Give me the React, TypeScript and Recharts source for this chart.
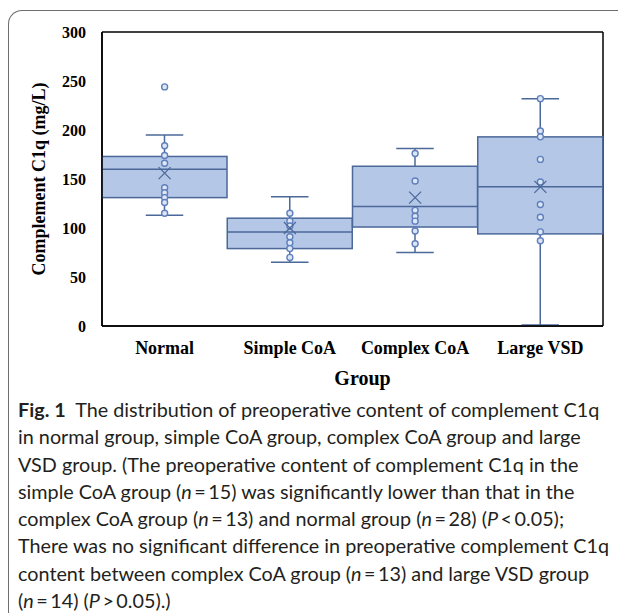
import React from "react";
import {
  ComposedChart,
  Bar,
  Scatter,
  XAxis,
  YAxis,
  CartesianGrid,
} from "recharts";

const groups = ["Normal", "Simple CoA", "Complex CoA", "Large VSD"];
const minVals = [113, 65, 75, 1];
const q1Vals = [131, 79, 101, 94];
const medianVals = [160, 96, 122, 142];
const q3Vals = [173, 110, 163, 193];
const maxVals = [195, 132, 181, 232];
const meanVals = [156, 100, 131, 142];
const pointVals = [
  [244, 184, 174, 166, 141, 136, 131, 126, 115],
  [115, 107, 102, 91, 85, 79, 70],
  [176, 148, 118, 112, 107, 97, 84],
  [232, 199, 193, 170, 147, 124, 111, 96, 87],
];
const yTicks = [0, 50, 100, 150, 200, 250, 300];

const boxData = groups.map((g, i) => ({
  group: g,
  range: [minVals[i], maxVals[i]],
  q1: q1Vals[i],
  median: medianVals[i],
  q3: q3Vals[i],
}));
// numeric position on the hidden top axis = category index + half a band
const dotData = pointVals.flatMap((vals, i) => vals.map((v) => ({ pos: i + 0.5, value: v })));
const meanData = meanVals.map((v, i) => ({ pos: i + 0.5, value: v }));

const BOX_FILL = "#b4c7e7";
const BOX_STROKE = "#4b6899";
const serif = "'Liberation Serif', 'Times New Roman', serif";

// eslint-disable-next-line @typescript-eslint/no-explicit-any
function BoxShape(props: any) {
  const { x, y, width, height, payload } = props;
  const [lo, hi] = payload.range;
  const top = Math.min(y, y + height);
  const h = Math.abs(height);
  const yOf = (v: number) => top + (h * (hi - v)) / (hi - lo);
  const cx = x + width / 2;
  const cap = width * 0.15;
  return (
    <g stroke={BOX_STROKE} strokeWidth={1.5}>
      <line x1={cx} x2={cx} y1={yOf(hi)} y2={yOf(payload.q3)} />
      <line x1={cx - cap} x2={cx + cap} y1={yOf(hi)} y2={yOf(hi)} />
      <line x1={cx} x2={cx} y1={yOf(payload.q1)} y2={yOf(lo)} />
      <line x1={cx - cap} x2={cx + cap} y1={yOf(lo)} y2={yOf(lo)} />
      <rect
        x={x}
        y={yOf(payload.q3)}
        width={width}
        height={yOf(payload.q1) - yOf(payload.q3)}
        fill={BOX_FILL}
      />
      <line x1={x} x2={x + width} y1={yOf(payload.median)} y2={yOf(payload.median)} />
    </g>
  );
}

// eslint-disable-next-line @typescript-eslint/no-explicit-any
function DotShape(props: any) {
  const { cx, cy } = props;
  return <circle cx={cx} cy={cy} r={3} fill="#dde6f5" stroke="#5f7fbd" strokeWidth={1.4} />;
}

// eslint-disable-next-line @typescript-eslint/no-explicit-any
function MeanShape(props: any) {
  const { cx, cy } = props;
  const s = 6;
  return (
    <g stroke={BOX_STROKE} strokeWidth={1.3}>
      <line x1={cx - s} y1={cy - s} x2={cx + s} y2={cy + s} />
      <line x1={cx - s} y1={cy + s} x2={cx + s} y2={cy - s} />
    </g>
  );
}

// eslint-disable-next-line @typescript-eslint/no-explicit-any
function YLabel({ viewBox }: any) {
  const x = viewBox.x - 3;
  const y = viewBox.y + viewBox.height / 2;
  return (
    <text
      x={x}
      y={y}
      transform={`rotate(-90 ${x} ${y})`}
      textAnchor="middle"
      dominantBaseline="central"
      fontFamily={serif}
      fontWeight="bold"
      fontSize={18}
      fill="#000"
    >
      Complement C1q (mg/L)
    </text>
  );
}

// eslint-disable-next-line @typescript-eslint/no-explicit-any
function XLabel({ viewBox }: any) {
  return (
    <text
      x={viewBox.x + viewBox.width / 2 + 10}
      y={viewBox.y + 59}
      textAnchor="middle"
      fontFamily={serif}
      fontWeight="bold"
      fontSize={20}
      fill="#000"
    >
      Group
    </text>
  );
}

// frame lines on the four sides of the plot area
// eslint-disable-next-line @typescript-eslint/no-explicit-any
const frameRows = ({ offset }: any) => [offset.top, offset.top + offset.height];
// eslint-disable-next-line @typescript-eslint/no-explicit-any
const frameCols = ({ offset }: any) => [offset.left, offset.left + offset.width];

const captionLines = [
  <>
    <b>Fig. 1</b>&nbsp; The distribution of preoperative content of complement C1q
  </>,
  <>in normal group, simple CoA group, complex CoA group and large</>,
  <>VSD group. (The preoperative content of complement C1q in the</>,
  <>
    simple CoA group (<i>n</i>&#8201;=&#8201;15) was significantly lower than that in the
  </>,
  <>
    complex CoA group (<i>n</i>&#8201;=&#8201;13) and normal group (<i>n</i>&#8201;=&#8201;28) (<i>P</i>&#8201;&lt;&#8201;0.05);
  </>,
  <>There was no significant difference in preoperative complement C1q</>,
  <>
    content between complex CoA group (<i>n</i>&#8201;=&#8201;13) and large VSD group
  </>,
  <>
    (<i>n</i>&#8201;=&#8201;14) (<i>P</i>&#8201;&gt;&#8201;0.05).)
  </>,
];

export default function App() {
  return (
    <div style={{ position: "relative", width: 618, height: 613, overflow: "hidden", background: "#fff" }}>
      <style>{`body{margin:0;overflow:hidden}`}</style>
      <div
        style={{
          position: "absolute",
          left: 8,
          top: 10,
          width: 640,
          height: 640,
          borderLeft: "1.5px solid #6e6e6e",
          borderTop: "1.5px solid #6e6e6e",
          borderTopLeftRadius: 14,
        }}
      />
      <div style={{ position: "absolute", left: 0, top: 0 }}>
        <ComposedChart
          width={618}
          height={400}
          data={boxData}
          margin={{ top: 32, right: 15, bottom: 44, left: 42 }}
          barCategoryGap={0}
          barGap={0}
        >
          <CartesianGrid
            stroke="#000"
            strokeWidth={1.5}
            horizontalCoordinatesGenerator={frameRows}
            verticalCoordinatesGenerator={frameCols}
          />
          <XAxis
            dataKey="group"
            height={30}
            tickLine={false}
            tickSize={6}
            tickMargin={9}
            axisLine={{ stroke: "#000", strokeWidth: 1.5 }}
            tick={{ fontFamily: serif, fontWeight: "bold", fontSize: 18, fill: "#000" }}
            label={<XLabel />}
          />
          <XAxis
            xAxisId="top"
            type="number"
            dataKey="pos"
            domain={[0, 4]}
            hide
          />
          <YAxis
            type="number"
            domain={[0, 300]}
            ticks={yTicks}
            width={60}
            tickLine={false}
            tickSize={6}
            tickMargin={10}
            axisLine={{ stroke: "#000", strokeWidth: 1.5 }}
            tick={{ fontFamily: serif, fontWeight: "bold", fontSize: 16, fill: "#000" }}
            label={<YLabel />}
          />
          <Bar dataKey="range" shape={<BoxShape />} isAnimationActive={false} />
          <Scatter
            xAxisId="top"
            data={dotData}
            dataKey="value"
            shape={<DotShape />}
            isAnimationActive={false}
          />
          <Scatter
            xAxisId="top"
            data={meanData}
            dataKey="value"
            shape={<MeanShape />}
            isAnimationActive={false}
          />
        </ComposedChart>
      </div>
      <div
        style={{
          position: "absolute",
          left: 18,
          top: 396,
          fontFamily: "Lato, 'Open Sans', sans-serif",
          fontSize: 19.8,
          lineHeight: "27.3px",
          color: "#231f20",
          whiteSpace: "nowrap",
        }}
      >
        {captionLines.map((line, i) => (
          <div key={i}>{line}</div>
        ))}
      </div>
    </div>
  );
}
